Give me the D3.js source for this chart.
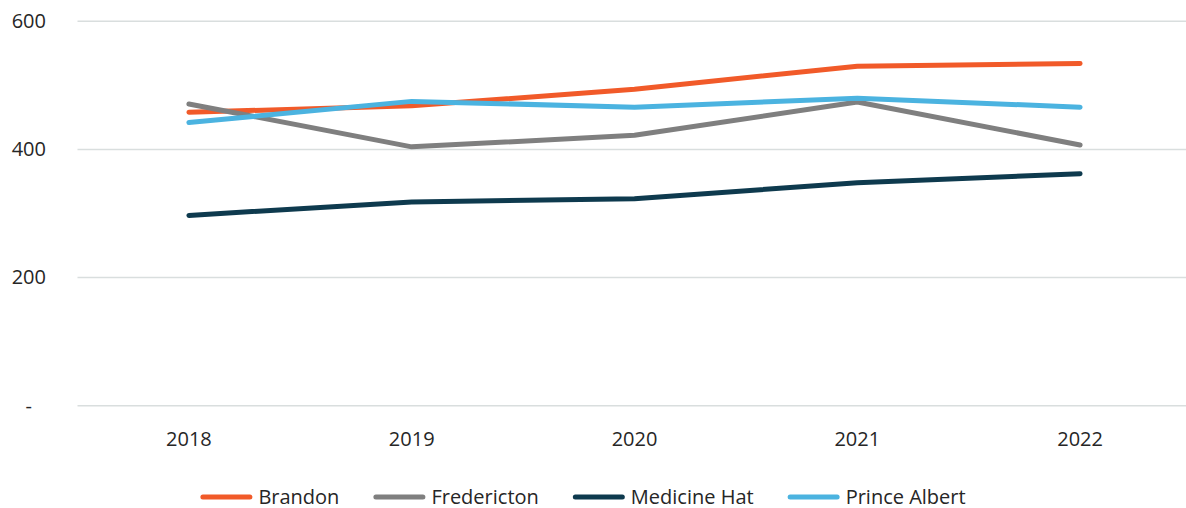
<!DOCTYPE html>
<html>
<head>
<meta charset="utf-8">
<script src="https://cdn.jsdelivr.net/npm/d3@7"></script>
<style>
  html, body { margin: 0; padding: 0; background: #ffffff; }
  svg { display: block; }
  text { font-family: "Open Sans", "Noto Sans", sans-serif; fill: #262626; }
</style>
</head>
<body>
<svg id="chart" width="1186" height="508"></svg>
<script>
// Years on the x axis
const years = ["2018", "2019", "2020", "2021", "2022"];

// Series values per city
const brandon      = [458, 468, 494, 530, 534];
const fredericton  = [471, 404, 422, 474, 407];
const medicineHat  = [297, 318, 323, 348, 362];
const princeAlbert = [442, 475, 466, 480, 466];

const seriesNames  = ["Brandon", "Fredericton", "Medicine Hat", "Prince Albert"];
const seriesValues = [brandon, fredericton, medicineHat, princeAlbert];
const seriesColors = ["#F15A29", "#7F7F7F", "#0E3A4E", "#4BB3E0"];

// Y axis ticks
const yTicks = [0, 200, 400, 600];

const W = 1186, H = 508;
const svg = d3.select("#chart");

const x = d3.scaleBand().domain(years).range([77.5, 1191.5]);
const y = d3.scaleLinear().domain([0, 600]).range([405.7, 21.3]);

// Horizontal gridlines
svg.append("g")
  .selectAll("line")
  .data(yTicks)
  .join("line")
  .attr("x1", 77.5).attr("x2", W)
  .attr("y1", d => y(d)).attr("y2", d => y(d))
  .attr("stroke", "#D9DEDE")
  .attr("stroke-width", 1.5);

// Y axis labels
const yAxis = svg.append("g")
  .attr("transform", "translate(46,0)")
  .call(d3.axisLeft(y).tickValues(yTicks).tickSize(0).tickPadding(0)
    .tickFormat(d => d === 0 ? "-" : d3.format("d")(d)));
yAxis.select(".domain").remove();
yAxis.selectAll("text")
  .attr("font-size", 20)
  .attr("font-family", "'Open Sans', sans-serif")
  .attr("fill", "#262626")
  .attr("x", d => d === 0 ? -14 : 0);

// X axis labels
const xAxis = svg.append("g")
  .attr("transform", "translate(0,432)")
  .call(d3.axisBottom(x).tickSize(0).tickPadding(0));
xAxis.select(".domain").remove();
xAxis.selectAll("text")
  .attr("font-size", 20)
  .attr("font-family", "'Open Sans', sans-serif")
  .attr("fill", "#262626");

// Lines
const line = d3.line()
  .x((d, i) => x(years[i]) + x.bandwidth() / 2)
  .y(d => y(d));

svg.append("g")
  .selectAll("path")
  .data(seriesValues)
  .join("path")
  .attr("d", d => line(d))
  .attr("fill", "none")
  .attr("stroke", (d, i) => seriesColors[i])
  .attr("stroke-width", 5)
  .attr("stroke-linecap", "round")
  .attr("stroke-linejoin", "round");

// Legend
const legend = svg.append("g");
const swatchW = 52, swatchGap = 6, itemGap = 34, legendY = 497;
const items = legend.selectAll("g")
  .data(seriesNames)
  .join("g");
items.append("line")
  .attr("x1", 2.5).attr("x2", swatchW - 2.5)
  .attr("y1", 0).attr("y2", 0)
  .attr("stroke", (d, i) => seriesColors[i])
  .attr("stroke-width", 5)
  .attr("stroke-linecap", "round");
items.append("text")
  .attr("x", swatchW + swatchGap)
  .attr("y", 0)
  .attr("dy", "0.35em")
  .attr("font-size", 20)
  .text(d => d);

let widths = [];
items.each(function() {
  const tw = d3.select(this).select("text").node().getComputedTextLength();
  widths.push(swatchW + swatchGap + tw);
});
const total = d3.sum(widths) + itemGap * (widths.length - 1);
let cx = 583 - total / 2;
items.attr("transform", (d, i) => {
  const t = `translate(${cx},${legendY})`;
  cx += widths[i] + itemGap;
  return t;
});
</script>
</body>
</html>
